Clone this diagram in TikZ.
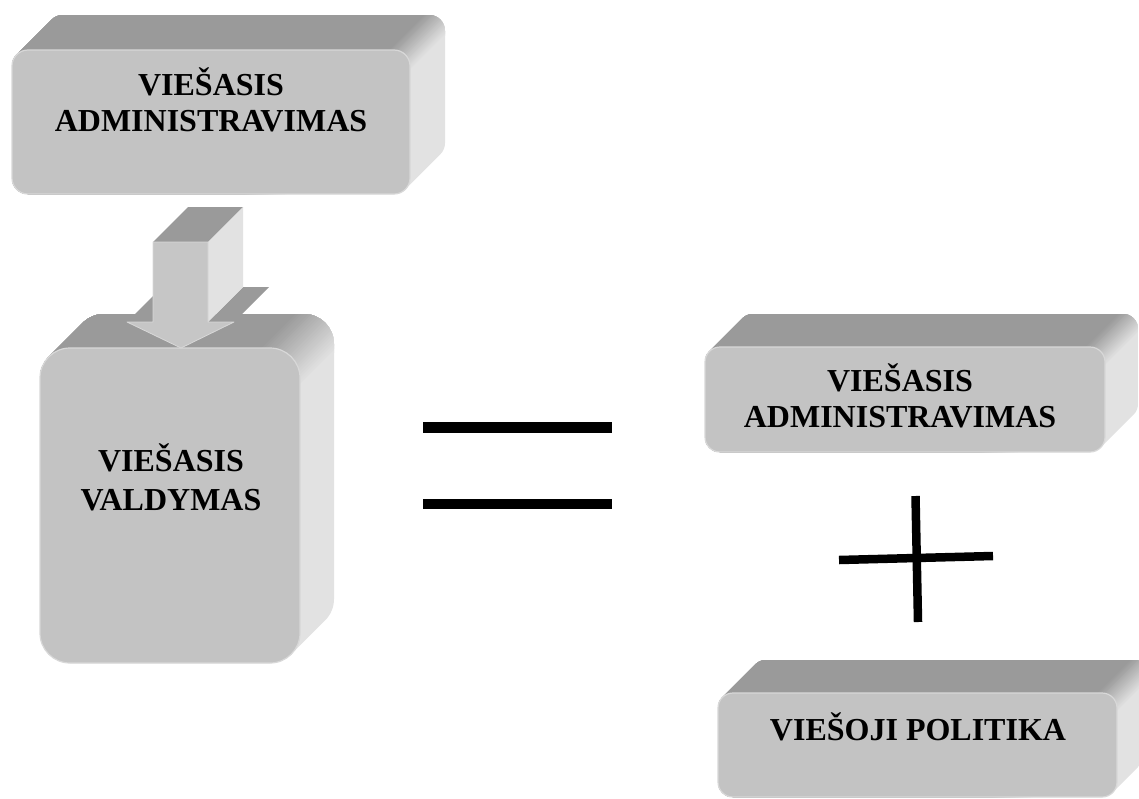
\documentclass[tikz,border=0pt]{standalone}
\usepackage{fontspec}
\setmainfont{Liberation Serif}

\definecolor{topgray}{HTML}{9A9A9A}
\definecolor{sidegray}{HTML}{E2E2E2}
\definecolor{frontgray}{HTML}{C3C3C3}
\definecolor{edgegray}{HTML}{D8D8D8}
\definecolor{arrowfront}{HTML}{C6C6C6}

\tikzset{
  frontface/.style={fill=frontgray, draw=edgegray, line width=1.2},
  boxtext/.style={font=\bfseries\fontsize{32}{36}\selectfont, align=center, inner sep=0pt, text=black},
  bar/.style={fill=black},
  plusline/.style={draw=black, line width=8.5, line cap=butt},
  arrowtop/.style={fill=topgray},
  arrowside/.style={fill=sidegray},
  arrowfrontface/.style={fill=arrowfront, draw=edgegray, line width=0.8, line join=round}
}

% Extruded rounded block: front face (x0,y0)-(x1,y1), corner radius r,
% depth d pushed up and to the right.  Top face dark, right face light,
% with a soft blend across the rounded top-right edge.
\newcommand\solidbox[6]{%
  \pgfmathsetmacro\sbk{#5*0.70711}%
  \pgfmathsetmacro\sbAx{#1+#5-\sbk}%
  \pgfmathsetmacro\sbAy{#2+#5-\sbk}%
  \pgfmathsetmacro\sbBx{\sbAx+#6}%
  \pgfmathsetmacro\sbBy{\sbAy-#6}%
  \pgfmathsetmacro\sbEx{#3-#5+\sbk}%
  \pgfmathsetmacro\sbEy{#4-#5+\sbk}%
  \pgfmathsetmacro\sbridge{#3+#2}%
  \pgfmathsetmacro\sbband{1.3*#5}%
  \begin{scope}
    \clip (\sbAx,\sbAy) -- (\sbBx,\sbBy) arc[start angle=225,end angle=270,radius=#5]
      -- ({#3-#5+#6},{#2-#6}) arc[start angle=270,end angle=360,radius=#5]
      -- ({#3+#6},{#4-#5-#6}) arc[start angle=0,end angle=45,radius=#5]
      -- (\sbEx,\sbEy) arc[start angle=45,end angle=90,radius=#5]
      -- ({#1+#5},#4) arc[start angle=90,end angle=180,radius=#5]
      -- (#1,{#2+#5}) arc[start angle=180,end angle=225,radius=#5] -- cycle;
    \fill[sidegray] (-50,-50) rectangle (1250,900);
    \foreach \i in {0,...,24}{
      \pgfmathsetmacro\sbcut{\sbridge+\sbband-2*\sbband*\i/24}
      \pgfmathtruncatemacro\sbmix{100-100*\i/24}
      \fill[sidegray!\sbmix!topgray] (-3000,-3000) -- ({\sbcut+3000},-3000) -- (-3000,{\sbcut+3000}) -- cycle;
    }
  \end{scope}
  \draw[frontface, rounded corners=#5] (#1,#2) rectangle (#3,#4);
}

\begin{document}
\begin{tikzpicture}[x=1pt, y=-1pt]
  \useasboundingbox (0,0) rectangle (1139,798);
  \clip (0,0) rectangle (1139,798);
  \fill[white] (0,0) rectangle (1139,798);

  % blocks
  \solidbox{12}{50}{410}{194}{16}{35}
  \solidbox{40}{348}{300}{663}{30}{34}
  \solidbox{705}{347}{1105}{452}{15}{33}
  \solidbox{718}{693}{1117}{797}{15}{33}

  % 3D arrow pointing down onto the lower block
  \fill[arrowtop] (127,322) -- (153,322) -- (188,287) -- (162,287) -- cycle;
  \fill[arrowtop] (208,322) -- (234,322) -- (269,287) -- (243,287) -- cycle;
  \fill[arrowtop] (153,242) -- (208,242) -- (243,207) -- (188,207) -- cycle;
  \fill[arrowside] (208,242) -- (243,207) -- (243,287) -- (208,322) -- cycle;
  \draw[arrowfrontface] (153,242) -- (208,242) -- (208,322) -- (234,322)
    -- (181,348) -- (127,322) -- (153,322) -- cycle;

  % labels
  \node[boxtext] (admTop) at (211,100) {VIEŠASIS\\ADMINISTRAVIMAS};
  \node[boxtext, font=\bfseries\fontsize{32}{39}\selectfont] (valdymas) at (171,477) {VIEŠASIS\\VALDYMAS};
  \node[boxtext] (admRight) at (900,396) {VIEŠASIS\\ADMINISTRAVIMAS};
  \node[boxtext, anchor=base] (politika) at (918,740) {VIEŠOJI POLITIKA};

  % equals sign
  \fill[bar] (423,422) rectangle (612,433);
  \fill[bar] (423,499) rectangle (612,509);

  % plus sign
  \draw[plusline] (839,560) -- (993,556);
  \draw[plusline] (915.5,496) -- (918,622);
\end{tikzpicture}
\end{document}
